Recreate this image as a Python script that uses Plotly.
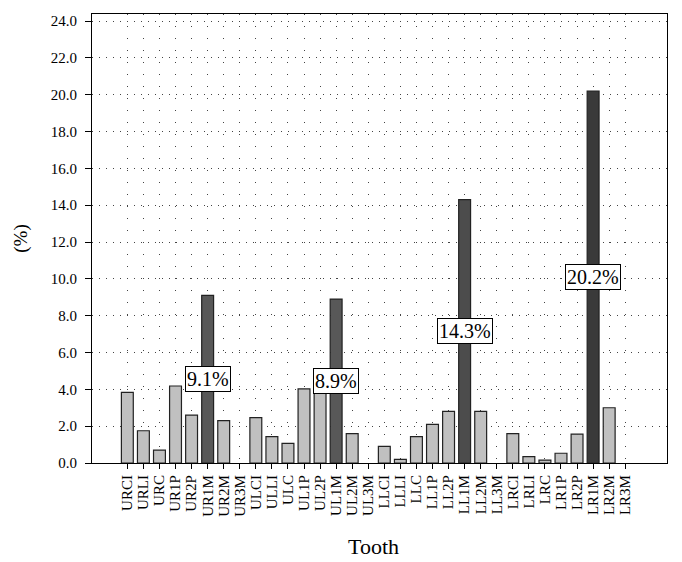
import plotly.graph_objects as go

# Tooth percentages
teeth = ["URCI", "URLI", "URC", "UR1P", "UR2P", "UR1M", "UR2M", "UR3M",
         "ULCI", "ULLI", "ULC", "UL1P", "UL2P", "UL1M", "UL2M", "UL3M",
         "LLCI", "LLLI", "LLC", "LL1P", "LL2P", "LL1M", "LL2M", "LL3M",
         "LRCI", "LRLI", "LRC", "LR1P", "LR2P", "LR1M", "LR2M", "LR3M"]
values = [3.84, 1.75, 0.7, 4.18, 2.6, 9.1, 2.3, 0.0,
          2.46, 1.43, 1.07, 4.02, 4.5, 8.9, 1.6, 0.0,
          0.9, 0.2, 1.43, 2.1, 2.8, 14.3, 2.8, 0.0,
          1.6, 0.35, 0.16, 0.53, 1.57, 20.2, 3.0, 0.0]
highlight = {"UR1M": "#585858", "UL1M": "#585858", "LL1M": "#4c4c4c", "LR1M": "#3a3a3a"}
y_ticks = [0, 2, 4, 6, 8, 10, 12, 14, 16, 18, 20, 22, 24]

idx = list(range(len(teeth)))
colors = [highlight.get(t, "#c0c0c0") for t in teeth]
# empty teeth get no outline
edge = [1.2 if v > 0 else 0 for v in values]

fig = go.Figure(go.Bar(
    x=idx, y=values,
    width=0.74,
    marker=dict(color=colors, line=dict(color="#222222", width=edge)),
    hoverinfo="x+y",
))

for t, c in highlight.items():
    i = teeth.index(t)
    fig.add_annotation(
        x=i, y=values[i] / 2, text="%.1f%%" % values[i],
        showarrow=False, bgcolor="white", bordercolor="black", borderwidth=1,
        borderpad=1, font=dict(family="Liberation Serif", size=20, color="black"),
    )

fig.add_annotation(
    x=0.49, y=-0.154, xref="paper", yref="paper", yanchor="top",
    text="Tooth", showarrow=False,
    font=dict(family="Liberation Serif", size=22, color="black"),
)

fig.update_xaxes(
    range=[-2.2, 33.6], automargin=False,
    tickvals=idx, ticktext=teeth, tickangle=-90,
    ticks="outside", ticklen=5, tickcolor="black",
    showline=True, linecolor="black", linewidth=1.2, mirror=True,
    showgrid=True, gridcolor="#444444", gridwidth=1, griddash="1px,11px",
    tickfont=dict(family="Liberation Serif", size=15, color="black"),
    zeroline=False,
)
fig.update_yaxes(
    range=[0, 24.38], automargin=False,
    tickvals=y_ticks, ticktext=["%.1f" % v for v in y_ticks],
    ticks="outside", ticklen=6, tickcolor="black", ticklabelstandoff=5,
    showline=True, linecolor="black", linewidth=1.2, mirror=True,
    showgrid=True, gridcolor="#444444", gridwidth=1, griddash="1px,6px",
    tickfont=dict(family="Liberation Serif", size=15, color="black"),
    title=dict(text="(%)", font=dict(family="Liberation Serif", size=19, color="black"), standoff=18),
    zeroline=False,
)

fig.update_layout(
    width=674, height=554,
    margin=dict(l=84, r=15, t=6, b=99),
    plot_bgcolor="white", paper_bgcolor="white",
    showlegend=False,
    font=dict(family="Liberation Serif", color="black"),
)

fig.write_html("out.html")
